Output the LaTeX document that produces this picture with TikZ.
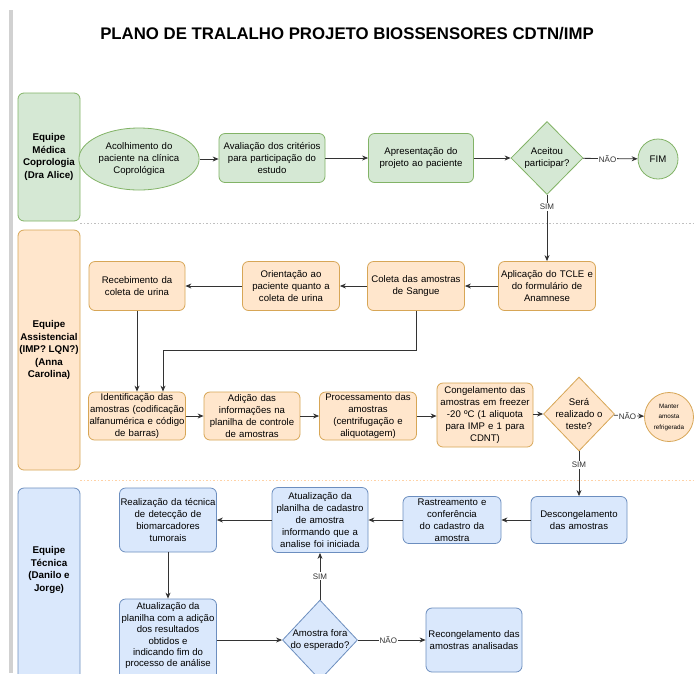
\documentclass[tikz,border=0pt]{standalone}
\usepackage{fontspec}
\setmainfont{Liberation Sans}
\usetikzlibrary{shapes.geometric,arrows.meta,calc}
\definecolor{gfill}{HTML}{D5E8D4}
\definecolor{gline}{HTML}{82B366}
\definecolor{ofill}{HTML}{FFE6CC}
\definecolor{oline}{HTML}{D7A656}
\definecolor{bfill}{HTML}{DAE8FC}
\definecolor{bline}{HTML}{6C8EBF}
\definecolor{conn}{HTML}{333333}
\tikzset{
  x=1pt,y=-1pt,
  base/.style={draw, line width=0.8pt, align=center, inner sep=0pt,
    font=\fontsize{9.6}{12}\selectfont},
  rbox/.style={base, rounded corners=6pt},
  gbox/.style={rbox, fill=gfill, draw=gline},
  obox/.style={rbox, fill=ofill, draw=oline},
  bbox/.style={rbox, fill=bfill, draw=bline},
  lane/.style={rbox, minimum width=62, font=\fontsize{9.8}{12.5}\selectfont\bfseries},
  dia/.style={base, diamond, shape aspect=1},
  arr/.style={draw=conn, line width=0.8pt, -{Stealth[length=6pt,width=5pt]}},
  ln/.style={draw=conn, line width=0.8pt},
  lbl/.style={fill=white, inner sep=1pt, font=\fontsize{8}{9}\selectfont, text=conn},
  sep/.style={line width=0.9pt, dash pattern=on 1.5pt off 2pt},
}
\begin{document}
\begin{tikzpicture}
\useasboundingbox (0,0) rectangle (695,673);
\fill[white] (0,0) rectangle (695,673);
% left bar
\fill[black!18] (9,10) rectangle (13,673);
% title
\node[font=\fontsize{16.8}{18}\selectfont\bfseries] (title) at (347,34) {PLANO DE TRALALHO PROJETO BIOSSENSORES CDTN/IMP};
% separators
\draw[sep, draw=black!25] (80,223) -- (695,223);
\draw[sep, draw=orange!35] (80,480) -- (695,480);
% lanes
\node[lane, fill=gfill, draw=gline, minimum height=128] (L1) at (49,157) {Equipe\\Médica\\Coprologia\\(Dra Alice)};
\node[lane, fill=ofill, draw=oline, minimum height=240] (L2) at (49,350) {Equipe\\Assistencial\\(IMP? LQN?)\\(Anna\\Carolina)};
\node[lane, fill=bfill, draw=bline, minimum height=200] (L3) at (49,588) {};
\node[font=\fontsize{9.8}{12.5}\selectfont\bfseries, align=center] (L3t) at (49,570) {Equipe\\Técnica\\(Danilo e\\Jorge)};
% lane 1
\node[base, ellipse, fill=gfill, draw=gline, minimum width=95, minimum height=62, text width=85] (acol) at (139,159) {Acolhimento do\\paciente na clínica\\Coprológica};
\node[gbox, minimum width=106, minimum height=49, text width=104] (aval) at (272,158) {Avaliação dos critérios\\para participação do\\estudo};
\node[gbox, minimum width=105, minimum height=49, text width=100] (apres) at (421,158) {Apresentação do\\projeto ao paciente};
\node[dia, fill=gfill, draw=gline, minimum width=72, minimum height=73,
  label={[align=center,font=\fontsize{9.6}{12}\selectfont]center:Aceitou\\participar?}] (aceit) at (547,158) {};
\node[base, circle, fill=gfill, draw=gline, minimum size=40] (fim) at (658,159) {FIM};
\draw[arr] (acol.east) -- (acol.east -| aval.west);
\draw[arr] (aval) -- (apres);
\draw[arr] (apres) -- (aceit);
\draw[arr] (aceit) -- node[lbl, pos=0.45] {NÃO} (fim);
% lane 2
\node[obox, minimum width=97, minimum height=49, text width=95] (tcle) at (547,286) {Aplicação do TCLE e\\do formulário de\\Anamnese};
\node[obox, minimum width=97, minimum height=49, text width=95] (coleta) at (416,286) {Coleta das amostras\\de Sangue};
\node[obox, minimum width=97, minimum height=49, text width=95] (orient) at (291,286) {Orientação ao\\paciente quanto a\\coleta de urina};
\node[obox, minimum width=96, minimum height=49, text width=94] (receb) at (137,286) {Recebimento da\\coleta de urina};
\node[obox, minimum width=97, minimum height=48, text width=97] (ident) at (137,416) {Identificação das\\amostras (codificação\\alfanumérica e código\\de barras)};
\node[obox, minimum width=96, minimum height=48, text width=96] (adic) at (252,416) {Adição das\\informações na\\planilha de controle\\de amostras};
\node[obox, minimum width=97, minimum height=48, text width=97] (proc) at (368,416) {Processamento das\\amostras\\(centrifugação e\\aliquotagem)};
\node[obox, minimum width=96, minimum height=64, text width=95] (cong) at (485,415) {Congelamento das\\amostras em freezer\\-20 ºC (1 aliquota\\para IMP e 1 para\\CDNT)};
\node[dia, fill=ofill, draw=oline, minimum width=71, minimum height=74,
  label={[align=center,font=\fontsize{9.6}{12}\selectfont]center:Será\\realizado o\\teste?}] (sera) at (579,414) {};
\node[base, circle, fill=ofill, draw=oline, minimum size=49, font=\fontsize{6.3}{10.5}\selectfont] (mant) at (669,417) {Manter\\amosta\\refrigerada};
\draw[arr] (aceit) -- node[lbl, pos=0.18] {SIM} (tcle);
\draw[arr] (tcle) -- (coleta);
\draw[arr] (coleta) -- (orient);
\draw[arr] (orient) -- (receb);
\draw[arr] (receb) -- (ident);
\coordinate (j1) at (163,350);
\draw[arr] (coleta.south) |- (j1) -- (j1 |- ident.north);
\draw[arr] (ident) -- (adic);
\draw[arr] (adic) -- (proc);
\draw[arr] (proc.east) -- (proc.east -| cong.west);
\draw[arr] (cong.east |- sera.west) -- (sera.west);
\draw[arr] (sera) -- node[lbl, pos=0.45] {NÃO} (mant);
% lane 3
\node[bbox, minimum width=96, minimum height=47, text width=94] (desc) at (579,520) {Descongelamento\\das amostras};
\node[bbox, minimum width=98, minimum height=47, text width=96] (rast) at (452,520) {Rastreamento e\\conferência\\do cadastro da\\amostra};
\node[bbox, minimum width=96, minimum height=65, text width=96] (atual) at (320,520) {Atualização da\\planilha de cadastro\\de amostra\\informando que a\\analise foi iniciada};
\node[bbox, minimum width=97, minimum height=64, text width=97] (realiz) at (168,520) {Realização da técnica\\de detecção de\\biomarcadores\\tumorais};
\node[bbox, minimum width=97, minimum height=92] (atual2) at (168,645) {};
\node[align=center, inner sep=0pt, font=\fontsize{9.6}{11.4}\selectfont] (atual2t) at (168,636) {Atualização da\\planilha com a adição\\dos resultados\\obtidos e\\indicando fim do\\processo de análise};
\node[dia, fill=bfill, draw=bline, minimum width=75, minimum height=80,
  label={[align=center,font=\fontsize{9.6}{12}\selectfont]center:Amostra fora\\do esperado?}] (amos) at (320,640) {};
\node[bbox, minimum width=96, minimum height=64, text width=96] (recong) at (474,640) {Recongelamento das\\amostras analisadas};
\draw[arr] (sera) -- node[lbl, pos=0.3] {SIM} (desc);
\draw[arr] (desc) -- (rast);
\draw[arr] (rast) -- (atual);
\draw[arr] (atual) -- (realiz);
\draw[arr] (realiz) -- (atual2);
\draw[arr] (amos.west -| atual2.east) -- (amos.west);
\draw[arr] (amos) -- node[lbl, pos=0.5] {SIM} (atual);
\draw[arr] (amos) -- node[lbl, pos=0.45] {NÃO} (recong);
\end{tikzpicture}
\end{document}
